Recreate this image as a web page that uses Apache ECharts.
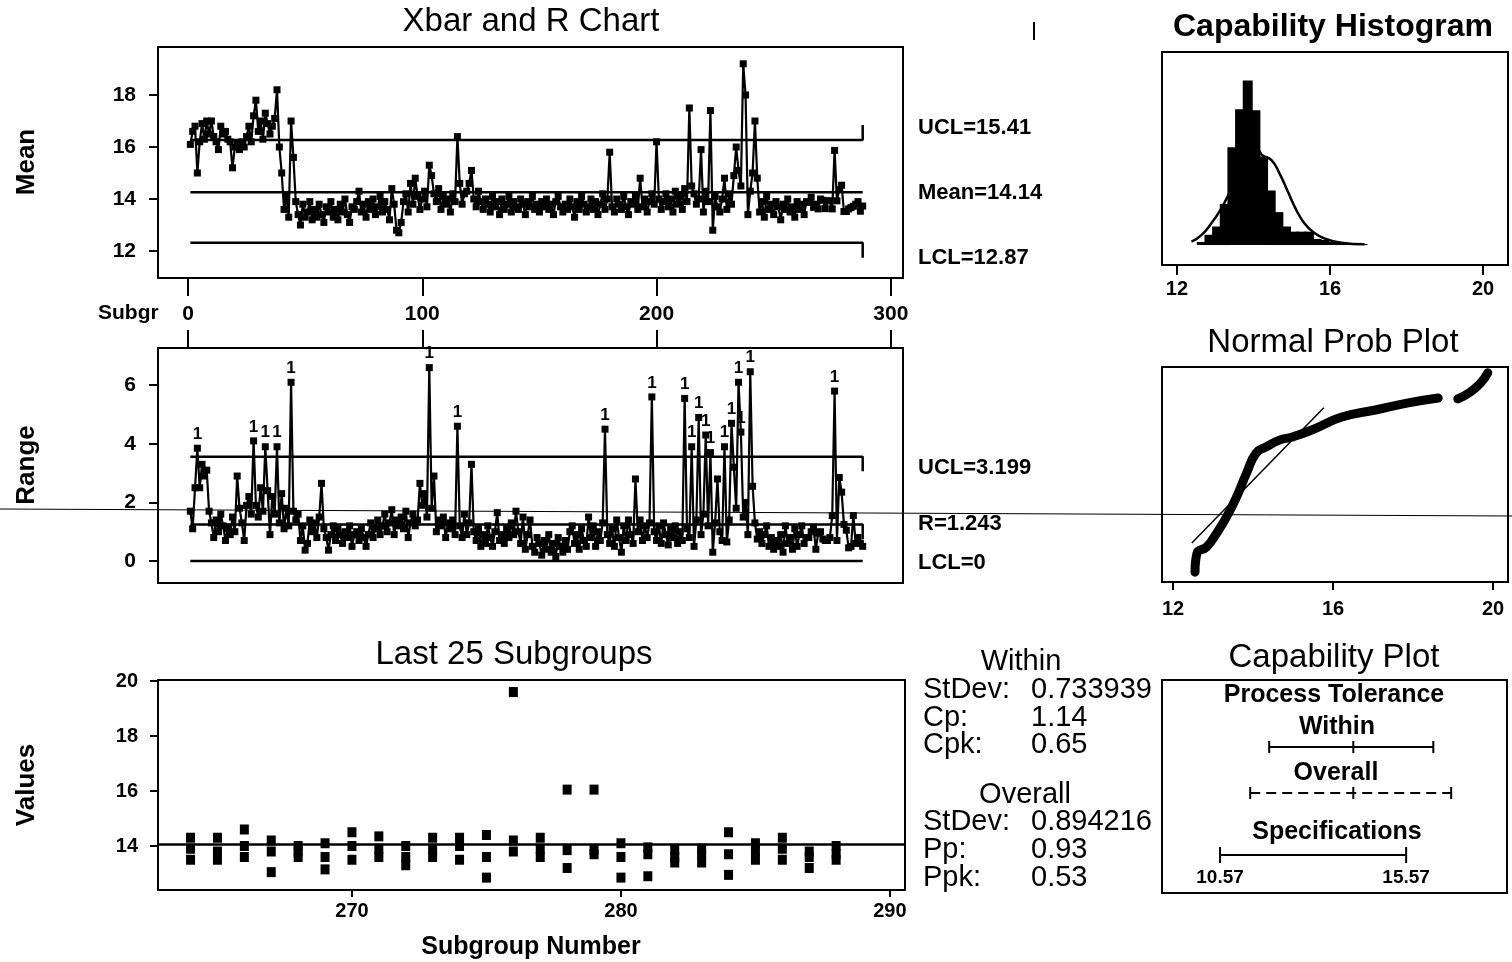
<!DOCTYPE html>
<html>
<head>
<meta charset="utf-8">
<title>Capability Sixpack</title>
<script src="https://cdn.jsdelivr.net/npm/echarts@6/dist/echarts.min.js"></script>
<style>
  html, body { margin: 0; padding: 0; background: #fff; }
  #main { width: 1512px; height: 962px; }
</style>
</head>
<body>
<div id="main"></div>
<script>
// subgroup means, subgroups 1..288
var subgroupMeans = [
  16.1, 16.6, 16.8, 15.0, 16.2, 16.9, 16.3, 17.0, 16.5, 17.0,
  16.4, 16.2, 15.9, 16.8, 16.5, 16.6, 16.3, 16.2, 15.2, 16.0,
  16.1, 15.9, 16.2, 16.0, 16.4, 16.8, 16.2, 17.2, 17.8, 16.6,
  17.0, 16.3, 17.3, 16.9, 16.5, 16.8, 17.1, 18.2, 16.0, 15.0,
  13.6, 14.1, 13.3, 17.0, 15.6, 13.9, 13.4, 13.0, 13.8, 13.3,
  13.5, 13.9, 13.2, 13.6, 13.3, 13.8, 13.4, 13.1, 13.7, 13.5,
  13.9, 13.3, 13.6, 13.2, 13.8, 13.5, 14.0, 13.4, 13.1, 13.7,
  13.6, 13.9, 14.3, 13.5, 13.8, 13.3, 13.9, 13.6, 14.0, 13.4,
  13.7, 14.1, 13.5, 13.9, 13.6, 13.2, 14.4, 13.8, 12.8, 12.7,
  13.1, 13.9, 14.2, 13.5, 14.6, 13.8, 14.8, 14.1, 13.6, 14.0,
  14.3, 13.7, 15.3, 14.9, 14.2, 13.9, 14.4, 13.6, 14.1, 13.8,
  14.0, 13.5, 14.2, 13.9, 16.4, 14.6, 13.8, 14.2, 14.3, 14.6,
  15.1, 14.0, 13.7, 14.3, 13.9, 13.6, 14.0, 13.8, 13.5, 14.1,
  13.7, 13.9, 13.4, 14.0, 13.6, 13.8, 14.1, 13.5, 13.9, 13.7,
  13.6, 14.0, 13.8, 13.4, 13.9, 13.7, 14.1, 13.6, 13.8, 13.5,
  13.9, 13.7, 14.0, 13.6, 13.8, 13.4, 13.9, 14.1, 13.7, 13.5,
  13.8, 13.6, 14.0, 13.7, 13.3, 13.9, 13.6, 14.1, 13.8, 13.5,
  13.7, 14.0, 13.6, 13.9, 13.4, 13.8, 14.2, 13.6, 14.0, 15.8,
  13.7, 13.5, 14.0, 13.8, 13.6, 14.1, 13.7, 13.4, 13.9, 13.8,
  14.1, 13.6, 14.8, 13.7, 14.0, 13.5, 13.9, 14.2, 13.8, 16.2,
  14.0, 13.6, 13.9, 14.2, 13.7, 14.0, 13.5, 14.3, 13.8, 14.1,
  13.6, 14.4, 13.9, 17.5, 14.5, 14.2, 13.8, 14.0, 15.9, 13.5,
  14.3, 13.9, 17.4, 12.8, 14.1, 13.7, 13.5, 14.0, 14.8, 13.6,
  14.2, 13.8, 14.9, 16.0, 15.1, 14.5, 19.2, 18.0, 13.4, 14.3,
  15.0, 17.0, 14.8, 13.5, 13.9, 13.3, 14.1, 13.6, 13.8, 13.4,
  13.9, 13.7, 13.2, 13.8, 13.6, 14.0, 13.5, 13.7, 13.3, 13.9,
  13.6, 13.8, 13.4, 13.9, 13.87, 14.07, 13.68, 13.8, 13.62, 14.0,
  13.95, 13.63, 13.93, 13.93, 13.62, 15.87, 13.93, 14.37, 14.53, 13.52,
  13.52, 13.62, 13.67, 13.72, 13.8, 13.9, 13.53, 13.73
];

// subgroup ranges, subgroups 1..288
var subgroupRanges = [
  1.7, 1.1, 2.5, 3.85, 2.5, 3.3, 2.9, 3.1, 1.7, 1.3,
  0.8, 1.4, 1.0, 1.6, 1.2, 0.7, 1.1, 0.9, 1.5, 1.0,
  2.9, 1.8, 1.3, 0.7, 1.9, 2.2, 1.6, 4.1, 1.9, 1.5,
  2.5, 1.7, 3.9, 2.4, 0.9, 2.2, 1.6, 3.9, 1.3, 2.3,
  1.1, 1.8, 1.2, 6.1, 1.7, 1.4, 1.6, 0.7, 1.2, 0.37,
  0.6, 1.4, 1.0, 1.3, 0.8, 1.5, 2.65, 1.1, 0.8, 0.37,
  0.9, 1.2, 0.7, 1.1, 0.9, 0.6, 1.0, 0.8, 1.2, 0.5,
  0.9, 1.0, 0.7, 1.1, 0.8, 0.5, 0.9, 1.3, 0.8, 1.1,
  1.4, 0.9, 1.2, 1.6, 1.0, 1.3, 1.75, 0.9, 1.4, 1.2,
  1.5, 1.1, 1.7, 0.8, 1.3, 1.6, 1.2, 1.4, 2.65, 1.9,
  2.3, 1.5, 6.6, 1.8, 2.9, 1.0, 1.4, 1.2, 1.5, 0.8,
  1.3, 1.1, 1.4, 0.9, 4.6, 1.2, 0.8, 1.6, 0.9, 1.3,
  3.3, 1.0, 0.7, 1.1, 0.5, 0.9, 0.6, 1.2, 0.8, 0.5,
  1.0, 1.65, 0.7, 0.9, 0.6, 1.1, 0.8, 1.3, 0.9, 1.7,
  1.0, 0.6, 1.5, 0.4, 0.9, 1.4, 0.5, 0.3, 0.8, 0.6,
  0.2, 0.7, 0.4, 0.9, 0.3, 0.6, 0.15, 0.8, 0.5, 0.3,
  0.7, 0.4, 1.0, 1.2, 0.6, 0.9, 0.4, 1.1, 0.7, 0.5,
  1.5, 0.8, 1.2, 0.5, 1.0, 0.7, 1.3, 4.5, 0.9, 0.6,
  1.1, 0.5, 1.4, 0.8, 0.3, 1.2, 0.7, 1.4, 0.9, 0.6,
  2.8, 1.0, 1.4, 0.7, 1.2, 0.8, 1.3, 5.6, 1.0, 0.7,
  1.2, 0.6, 1.3, 0.9, 0.55, 1.1, 0.8, 1.2, 0.6, 1.0,
  0.7, 5.55, 1.1, 0.8, 3.9, 0.5, 1.4, 4.9, 0.9, 1.6,
  4.3, 1.2, 3.7, 0.3, 1.3, 2.8, 1.0, 0.7, 3.9, 0.65,
  1.4, 4.7, 3.2, 1.8, 6.1, 4.4, 1.5, 2.0, 0.9, 6.46,
  2.55, 1.3, 0.75, 1.0, 0.6, 0.9, 1.2, 0.5, 0.8, 0.4,
  0.7, 0.5, 0.9, 0.3, 1.2, 0.6, 0.8, 0.4, 1.1, 0.5,
  0.9, 1.2, 0.6, 0.8, 0.8, 1.0, 1.15, 0.4, 0.95, 1.0,
  0.75, 0.7, 0.7, 0.8, 1.55, 5.8, 0.7, 2.85, 2.35, 1.25,
  1.05, 0.45, 0.5, 1.55, 0.6, 0.8, 0.6, 0.5
];

// control lines where they sit on the printed axes: UCL, centre, LCL
var xbarLimits = [16.27, 14.26, 12.32];
var rangeLimits = [3.56, 1.243, 0];
var xbarLimitText = ['UCL=15.41', 'Mean=14.14', 'LCL=12.87'];
var rangeLimitText = ['UCL=3.199', 'R=1.243', 'LCL=0'];

var subgroupTicks = [0, 100, 200, 300];
var xbarTicks = [12, 14, 16, 18];
var rangeTicks = [0, 2, 4, 6];

// last 25 subgroups, three observations each
var lastSubgroups = [264, 265, 266, 267, 268, 269, 270, 271, 272, 273, 274, 275, 276,
  277, 278, 279, 280, 281, 282, 283, 284, 285, 286, 287, 288];
var lastValues = [
  [14.3, 13.9, 13.5], [14.3, 13.8, 13.5], [14.6, 14.0, 13.6], [14.2, 13.8, 13.05],
  [14.0, 13.8, 13.6], [14.1, 13.6, 13.15], [14.5, 14.0, 13.5], [14.35, 13.9, 13.6],
  [14.0, 13.6, 13.3], [14.3, 13.9, 13.6], [14.3, 14.0, 13.5], [14.4, 13.6, 12.85],
  [19.6, 14.2, 13.8], [14.3, 13.9, 13.6], [16.05, 13.85, 13.2], [16.05, 13.85, 13.7],
  [14.1, 13.6, 12.85], [13.95, 13.7, 12.9], [13.85, 13.6, 13.4], [13.9, 13.7, 13.4],
  [14.5, 13.7, 12.95], [14.1, 13.8, 13.5], [14.3, 13.9, 13.5], [13.8, 13.6, 13.2],
  [14.0, 13.7, 13.5]
];
var lastMeanLine = 14.05;
var lastTicks = [270, 280, 290];
var valueTicks = [14, 16, 18, 20];

// capability histogram
var histBins = [12.65, 12.85, 13.05, 13.25, 13.45, 13.65, 13.85, 14.05, 14.25, 14.45, 14.65,
  14.85, 15.05, 15.25, 15.45, 15.65, 15.85, 16.05, 16.25, 16.45, 16.65, 16.85];
var histCounts = [3, 10, 18, 40, 95, 132, 160, 131, 86, 53, 32, 18, 13, 13, 13, 6, 5, 3, 3, 2, 2, 1];
var curveX = [12.38, 12.64, 12.90, 13.16, 13.34, 13.54, 13.77, 13.98, 14.14, 14.22, 14.47,
  14.68, 14.90, 15.12, 15.33, 15.55, 15.85, 16.29, 16.90];
var curveY = [3.2, 9.7, 21.1, 35.6, 48.5, 65, 80.6, 89.3, 91.3, 87.4, 82.5,
  69.6, 51.7, 34, 21.1, 12.9, 6.5, 2.2, 0.7];
var histTicks = [12, 16, 20];

// normal probability plot (normal score on y)
var probX = [12.55, 12.60, 12.84, 13.09, 13.34, 13.59, 13.84, 14.08, 14.33, 14.66, 14.98,
  15.47, 16.22, 17.06, 17.88, 18.63];
var probZ = [-3.18, -2.56, -2.36, -1.91, -1.38, -0.73, 0.05, 0.70, 0.90, 1.12, 1.22,
  1.45, 1.87, 2.10, 2.33, 2.49];
var probTailX = [19.12, 19.44, 19.69, 19.87];
var probTailZ = [2.46, 2.69, 2.98, 3.31];
var fitX = [12.47, 15.77];
var fitZ = [-2.23, 2.17];

// capability plot
var withinInterval = [11.89, 14.15, 16.30];
var overallInterval = [11.38, 14.15, 16.78];
var specLimits = [10.57, 15.57];
var withinStats = ['0.733939', '1.14', '0.65'];
var overallStats = ['0.894216', '0.93', '0.53'];

var font = '"Liberation Sans", Arial, sans-serif';
var chart = echarts.init(document.getElementById('main'));

function pairs(xs, ys) {
  return xs.map(function (x, i) { return [x, ys[i]]; });
}

function boxGrid(left, top, width, height) {
  return { left: left, top: top, width: width, height: height, show: true,
    borderColor: '#000', borderWidth: 2, backgroundColor: 'transparent' };
}

function tickLabel(size, margin, values) {
  return { show: true, customValues: values, margin: margin, color: '#000',
    fontFamily: font, fontSize: size, fontWeight: 'bold' };
}

function valueAxis(grid, min, max, extra) {
  var a = { type: 'value', gridIndex: grid, min: min, max: max, show: true,
    axisLine: { show: false, onZero: false }, splitLine: { show: false },
    axisTick: { show: false }, axisLabel: { show: false } };
  for (var k in extra) a[k] = extra[k];
  return a;
}

function ticks(values, length) {
  return { show: true, customValues: values, length: length, lineStyle: { color: '#000', width: 2 } };
}

function limitLine(xi, yi, pts) {
  return { type: 'line', xAxisIndex: xi, yAxisIndex: yi, data: pts, symbol: 'none',
    silent: true, z: 1, lineStyle: { color: '#000', width: 2.5 } };
}

function text(x, y, s, size, weight, align, rot) {
  return { type: 'text', x: x, y: y, rotation: rot || 0, z: 100, silent: true,
    style: { text: s, fontFamily: font, fontSize: size, fontWeight: weight || 'normal',
      fill: '#000', textAlign: align || 'left', textVerticalAlign: 'middle',
      align: align || 'left', verticalAlign: 'middle' } };
}

var lastPoints = [];
lastSubgroups.forEach(function (sg, i) {
  lastValues[i].forEach(function (v) { lastPoints.push([sg, v]); });
});

var last = subgroupMeans.length;

var capRows = [
  { iv: withinInterval, level: 146, dash: null, cap: 6 },
  { iv: overallInterval, level: 100, dash: [10, 6], cap: 6 },
  { iv: specLimits, level: 38, dash: null, cap: 8 }
];

var option = {
  animation: false,
  backgroundColor: '#fff',
  textStyle: { fontFamily: font },
  grid: [
    boxGrid(158, 47, 745, 231),
    boxGrid(158, 348, 745, 235),
    boxGrid(158, 680, 747, 210),
    boxGrid(1162, 52, 346, 213),
    boxGrid(1162, 367, 346, 215),
    boxGrid(1162, 680, 345, 213)
  ],
  xAxis: [
    valueAxis(0, -12.8, 305.2, { axisTick: ticks(subgroupTicks, 18), axisLabel: tickLabel(21, 26, subgroupTicks) }),
    valueAxis(1, -12.8, 305.2, { position: 'top', axisTick: ticks(subgroupTicks, 18) }),
    valueAxis(2, 262.79, 290.56, { axisTick: ticks(lastTicks, 7), axisLabel: tickLabel(20, 11, lastTicks) }),
    valueAxis(3, 11.61, 20.65, { axisTick: ticks(histTicks, 10), axisLabel: tickLabel(20, 14, histTicks) }),
    valueAxis(4, 11.725, 20.375, { axisTick: ticks(histTicks, 8), axisLabel: tickLabel(20, 17, histTicks) }),
    valueAxis(5, 9.01, 18.28, { show: false })
  ],
  yAxis: [
    valueAxis(0, 10.962, 19.846, { axisTick: ticks(xbarTicks, 9), axisLabel: tickLabel(21, 22, xbarTicks) }),
    valueAxis(1, -0.751, 7.27, { axisTick: ticks(rangeTicks, 9), axisLabel: tickLabel(21, 22, rangeTicks) }),
    valueAxis(2, 12.4, 20.036, { axisTick: ticks(valueTicks, 8), axisLabel: tickLabel(20, 20, valueTicks) }),
    valueAxis(3, -19.4, 187.6, { show: false }),
    valueAxis(4, -3.5, 3.5, { show: false }),
    valueAxis(5, 0, 213, { show: false })
  ],
  series: [
    // Xbar chart
    limitLine(0, 0, [[1, xbarLimits[0]], [last, xbarLimits[0]], [last, xbarLimits[0] + 0.58]]),
    limitLine(0, 0, [[1, xbarLimits[1]], [last, xbarLimits[1]]]),
    limitLine(0, 0, [[1, xbarLimits[2]], [last, xbarLimits[2]], [last, xbarLimits[2] - 0.58]]),
    {
      type: 'line', xAxisIndex: 0, yAxisIndex: 0, z: 3,
      data: subgroupMeans.map(function (v, i) { return [i + 1, v]; }),
      symbol: 'rect', symbolSize: 7, showAllSymbol: true,
      itemStyle: { color: '#000', opacity: 1 }, lineStyle: { color: '#000', width: 2.2 }
    },
    // R chart
    limitLine(1, 1, [[1, rangeLimits[0]], [last, rangeLimits[0]], [last, rangeLimits[0] - 0.5]]),
    limitLine(1, 1, [[1, rangeLimits[1]], [last, rangeLimits[1]], [last, rangeLimits[1] - 0.5]]),
    limitLine(1, 1, [[1, rangeLimits[2]], [last, rangeLimits[2]]]),
    {
      type: 'line', xAxisIndex: 1, yAxisIndex: 1, z: 3,
      data: subgroupRanges.map(function (v, i) {
        var item = { value: [i + 1, v] };
        if (v > rangeLimits[0]) item.label = { show: true };
        return item;
      }),
      symbol: 'rect', symbolSize: 7, showAllSymbol: true,
      itemStyle: { color: '#000', opacity: 1 }, lineStyle: { color: '#000', width: 2.2 },
      label: { show: false, formatter: '1', position: 'top', distance: 2, color: '#000',
        fontFamily: font, fontWeight: 'bold', fontSize: 17 }
    },
    // last 25 subgroups
    limitLine(2, 2, [[262.79, lastMeanLine], [290.56, lastMeanLine]]),
    {
      type: 'scatter', xAxisIndex: 2, yAxisIndex: 2, data: lastPoints,
      symbol: 'rect', symbolSize: [9, 10], itemStyle: { color: '#000', opacity: 1 }
    },
    // capability histogram
    {
      type: 'bar', xAxisIndex: 3, yAxisIndex: 3, data: pairs(histBins, histCounts),
      barWidth: 10, barMinWidth: 10, itemStyle: { color: '#000', opacity: 1, borderWidth: 0 }, silent: true
    },
    {
      type: 'line', xAxisIndex: 3, yAxisIndex: 3, data: pairs(curveX, curveY), smooth: true,
      symbol: 'none', lineStyle: { color: '#000', width: 2.5 }, z: 4
    },
    // normal probability plot
    {
      type: 'line', xAxisIndex: 4, yAxisIndex: 4, data: pairs(probX, probZ), smooth: true,
      symbol: 'none', lineStyle: { color: '#000', width: 9, cap: 'round', join: 'round' }
    },
    {
      type: 'line', xAxisIndex: 4, yAxisIndex: 4, data: pairs(probTailX, probTailZ), smooth: true,
      symbol: 'none', lineStyle: { color: '#000', width: 9, cap: 'round', join: 'round' }
    },
    {
      type: 'line', xAxisIndex: 4, yAxisIndex: 4, data: pairs(fitX, fitZ),
      symbol: 'none', lineStyle: { color: '#000', width: 1.5 }, z: 4
    },
    // capability plot
    {
      type: 'custom', xAxisIndex: 5, yAxisIndex: 5, silent: true,
      data: capRows.map(function (r) { return [r.iv[0], r.level]; }),
      renderItem: function (params, api) {
        var r = capRows[params.dataIndex];
        var lo = r.iv[0], hi = r.iv[r.iv.length - 1];
        var p0 = api.coord([lo, r.level]);
        var p1 = api.coord([hi, r.level]);
        var st = { stroke: '#000', lineWidth: 2 };
        var kids = [
          { type: 'line', shape: { x1: p0[0], y1: p0[1], x2: p1[0], y2: p1[1] },
            style: { stroke: '#000', lineWidth: 2, lineDash: r.dash } },
          { type: 'line', shape: { x1: p0[0], y1: p0[1] - r.cap, x2: p0[0], y2: p0[1] + r.cap }, style: st },
          { type: 'line', shape: { x1: p1[0], y1: p1[1] - r.cap, x2: p1[0], y2: p1[1] + r.cap }, style: st }
        ];
        if (r.iv.length === 3) {
          var pm = api.coord([r.iv[1], r.level]);
          kids.push({ type: 'line', shape: { x1: pm[0], y1: pm[1] - r.cap, x2: pm[0], y2: pm[1] + r.cap }, style: st });
        } else {
          [lo, hi].forEach(function (v) {
            var p = api.coord([v, r.level]);
            kids.push({ type: 'text', x: p[0], y: p[1] + 23,
              style: { text: v.toFixed(2), fontFamily: font, fontSize: 19, fontWeight: 'bold', fill: '#000',
                align: 'center', verticalAlign: 'middle', textAlign: 'center', textVerticalAlign: 'middle' } });
          });
        }
        return { type: 'group', children: kids };
      }
    }
  ],
  graphic: [
    text(531, 22, 'Xbar and R Chart', 33, 'normal', 'center'),
    text(1333, 27, 'Capability Histogram', 32, 'bold', 'center'),
    text(1333, 343, 'Normal Prob Plot', 33, 'normal', 'center'),
    text(514, 655, 'Last 25 Subgroups', 33, 'normal', 'center'),
    text(1334, 658, 'Capability Plot', 33, 'normal', 'center'),
    text(27, 162, 'Mean', 26, 'bold', 'center', Math.PI / 2),
    text(27, 465, 'Range', 26, 'bold', 'center', Math.PI / 2),
    text(27, 785, 'Values', 26, 'bold', 'center', Math.PI / 2),
    text(98, 313, 'Subgr', 21, 'bold'),
    text(531, 947, 'Subgroup Number', 25, 'bold', 'center'),
    text(918, 128, xbarLimitText[0], 22, 'bold'),
    text(918, 193, xbarLimitText[1], 22, 'bold'),
    text(918, 258, xbarLimitText[2], 22, 'bold'),
    text(918, 468, rangeLimitText[0], 22, 'bold'),
    text(918, 524, rangeLimitText[1], 22, 'bold'),
    text(918, 563, rangeLimitText[2], 22, 'bold'),
    text(1021, 662, 'Within', 29, 'normal', 'center'),
    text(923, 690, 'StDev:', 29), text(1031, 690, withinStats[0], 29),
    text(923, 718, 'Cp:', 29), text(1031, 718, withinStats[1], 29),
    text(923, 745, 'Cpk:', 29), text(1031, 745, withinStats[2], 29),
    text(1025, 795, 'Overall', 29, 'normal', 'center'),
    text(923, 822, 'StDev:', 29), text(1031, 822, overallStats[0], 29),
    text(923, 850, 'Pp:', 29), text(1031, 850, overallStats[1], 29),
    text(923, 878, 'Ppk:', 29), text(1031, 878, overallStats[2], 29),
    text(1334, 695, 'Process Tolerance', 25, 'bold', 'center'),
    text(1337, 727, 'Within', 25, 'bold', 'center'),
    text(1336, 773, 'Overall', 25, 'bold', 'center'),
    text(1337, 832, 'Specifications', 25, 'bold', 'center'),
    // scan marks on the page
    { type: 'line', z: 101, silent: true, shape: { x1: 0, y1: 509, x2: 1512, y2: 516 },
      style: { stroke: '#000', lineWidth: 1 } },
    { type: 'line', z: 101, silent: true, shape: { x1: 1034, y1: 22, x2: 1034, y2: 40 },
      style: { stroke: '#000', lineWidth: 2 } }
  ]
};

chart.setOption(option);
</script>
</body>
</html>
